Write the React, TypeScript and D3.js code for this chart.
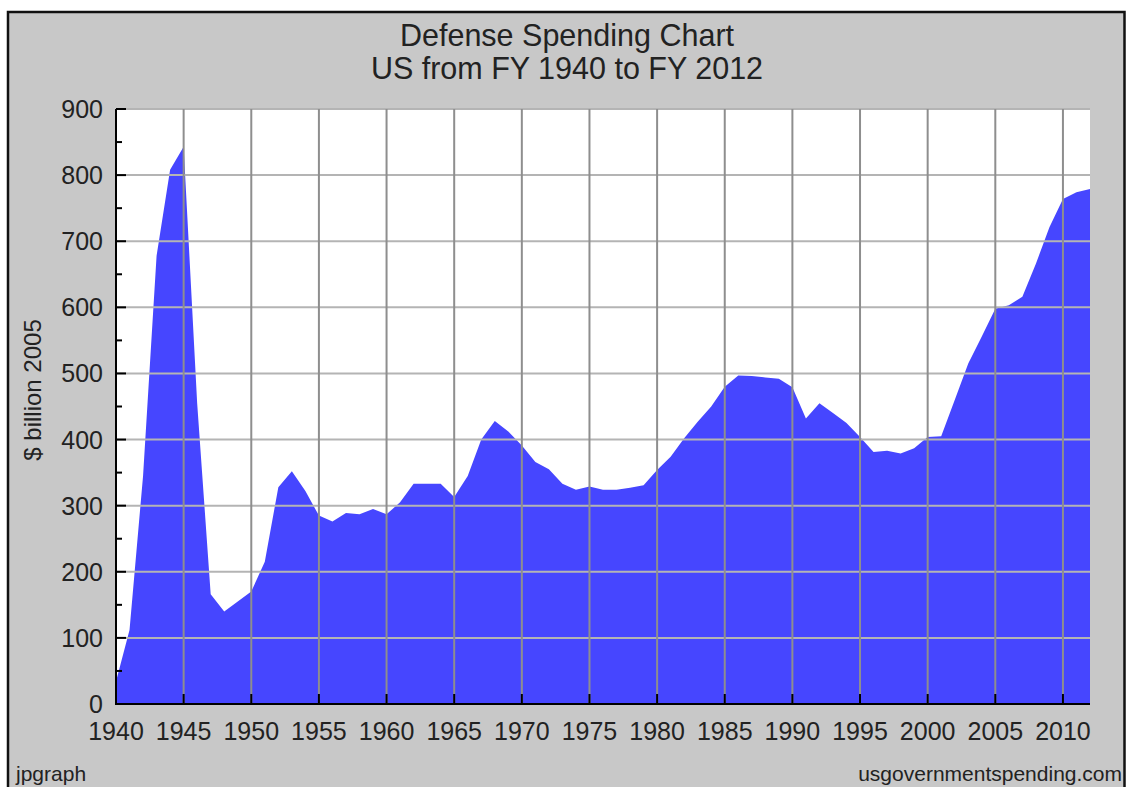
import React from "react";
import * as d3 from "d3";

const years: number[] = d3.range(1940, 2013);
const spending: number[] = [
  34, 112, 345, 678, 808, 843, 455, 166, 140, 155,
  170, 215, 328, 352, 322, 285, 276, 289, 287, 295,
  287, 305, 333, 333, 333, 313, 345, 400, 428, 412,
  391, 366, 355, 333, 324, 329, 324, 324, 327, 331,
  354, 374, 402, 427, 450, 480, 497, 496, 494, 492,
  479, 432, 455, 440, 425, 404, 381, 383, 379, 387,
  404, 405, 460, 515, 556, 598, 603, 616, 666, 721,
  764, 774, 779,
];
const yTicks: number[] = [0, 100, 200, 300, 400, 500, 600, 700, 800, 900];
const yMinor: number[] = [50, 150, 250, 350, 450, 550, 650, 750, 850];
const xTicks: number[] = [1940, 1945, 1950, 1955, 1960, 1965, 1970, 1975, 1980, 1985, 1990, 1995, 2000, 2005, 2010];
const titleLines: string[] = ["Defense Spending Chart", "US from FY 1940 to FY 2012"];
const yLabel = "$ billion 2005";
const footLeft = "jpgraph";
const footRight = "usgovernmentspending.com";

const W = 1127;
const H = 787;
const L = 116, R = 1090, T = 109, B = 704;
const FONT = "'Liberation Sans', Arial, sans-serif";

export default function App() {
  const x = d3.scaleLinear().domain([1940, 2012]).range([L, R]);
  const y = d3.scaleLinear().domain([0, 900]).range([B, T]);
  const data = years.map((yr, i) => ({ yr, v: spending[i] }));
  const area = d3
    .area<{ yr: number; v: number }>()
    .x((d) => x(d.yr))
    .y0(y(0))
    .y1((d) => y(d.v))
    .curve(d3.curveLinear);

  return (
    <svg
      width={W}
      height={H}
      style={{ position: "fixed", left: 0, top: 0, display: "block" }}
    >
      <rect x={0} y={0} width={W} height={H} fill="#ffffff" />
      <rect x={8} y={12} width={1116.5} height={800} fill="#c8c8c8" stroke="#111" strokeWidth={2.5} />
      <rect x={L} y={T} width={R - L} height={B - T} fill="#ffffff" />
      <path d={area(data) || ""} fill="#4646ff" />
      {yTicks.filter((t) => t > 0).map((t) => (
        <line key={"hg" + t} x1={L} x2={R} y1={y(t)} y2={y(t)} stroke="#b4b4b4" strokeWidth={2} />
      ))}
      {xTicks.filter((t) => t > 1940).map((t) => (
        <line key={"vg" + t} x1={x(t)} x2={x(t)} y1={T} y2={B} stroke="#8e8e8e" strokeWidth={2} />
      ))}
      <line x1={L} x2={L} y1={T} y2={B + 1} stroke="#000" strokeWidth={2} />
      <line x1={L - 1} x2={R} y1={B} y2={B} stroke="#000" strokeWidth={2} />
      {yTicks.map((t) => (
        <line key={"yt" + t} x1={L} x2={L + 10} y1={y(t)} y2={y(t)} stroke="#000" strokeWidth={2} />
      ))}
      {yMinor.map((t) => (
        <line key={"ym" + t} x1={L} x2={L + 6} y1={y(t)} y2={y(t)} stroke="#000" strokeWidth={2} />
      ))}
      {xTicks.map((t) => (
        <line key={"xt" + t} x1={x(t)} x2={x(t)} y1={B} y2={B - 10} stroke="#000" strokeWidth={2} />
      ))}
      {yTicks.map((t) => (
        <text key={"yl" + t} x={103} y={y(t)} dy="0.36em" textAnchor="end" fontFamily={FONT} fontSize={25} fill="#222">
          {t}
        </text>
      ))}
      {xTicks.map((t) => (
        <text key={"xl" + t} x={x(t)} y={740} textAnchor="middle" fontFamily={FONT} fontSize={25} fill="#222">
          {t}
        </text>
      ))}
      <text
        transform="translate(41,390) rotate(-90)"
        textAnchor="middle"
        fontFamily={FONT}
        fontSize={24}
        fill="#222"
      >
        {yLabel}
      </text>
      {titleLines.map((s, i) => (
        <text key={"t" + i} x={567} y={46 + i * 33} textAnchor="middle" fontFamily={FONT} fontSize={30.5} fill="#222">
          {s}
        </text>
      ))}
      <text x={16} y={781} fontFamily={FONT} fontSize={21} fill="#222">{footLeft}</text>
      <text x={1122} y={781} textAnchor="end" fontFamily={FONT} fontSize={21} fill="#222">{footRight}</text>
    </svg>
  );
}
